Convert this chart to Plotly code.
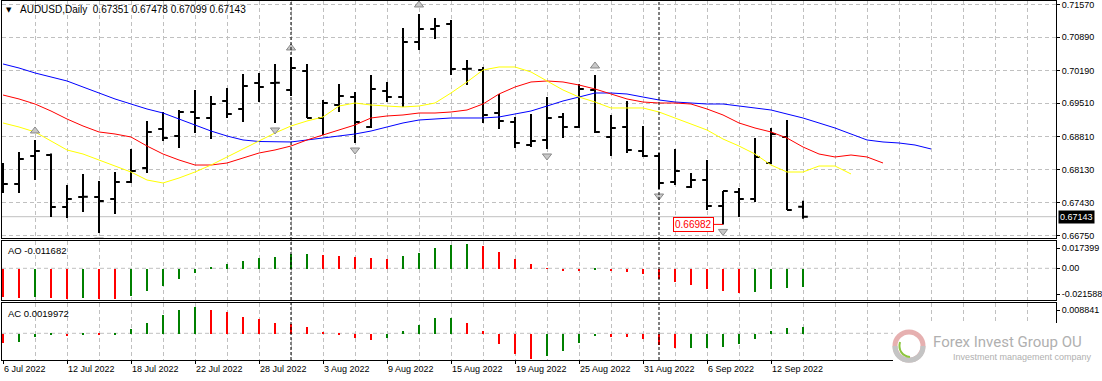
import plotly.graph_objects as go

# ---------------- data ----------------
DATES = ["6 Jul 2022", "7 Jul 2022", "8 Jul 2022", "11 Jul 2022", "12 Jul 2022", "13 Jul 2022",
         "14 Jul 2022", "15 Jul 2022", "18 Jul 2022", "19 Jul 2022", "20 Jul 2022", "21 Jul 2022",
         "22 Jul 2022", "25 Jul 2022", "26 Jul 2022", "27 Jul 2022", "28 Jul 2022", "29 Jul 2022",
         "1 Aug 2022", "2 Aug 2022", "3 Aug 2022", "4 Aug 2022", "5 Aug 2022", "8 Aug 2022",
         "9 Aug 2022", "10 Aug 2022", "11 Aug 2022", "12 Aug 2022", "15 Aug 2022", "16 Aug 2022",
         "17 Aug 2022", "18 Aug 2022", "19 Aug 2022", "22 Aug 2022", "23 Aug 2022", "24 Aug 2022",
         "25 Aug 2022", "26 Aug 2022", "29 Aug 2022", "30 Aug 2022", "31 Aug 2022", "1 Sep 2022",
         "2 Sep 2022", "5 Sep 2022", "6 Sep 2022", "7 Sep 2022", "8 Sep 2022", "9 Sep 2022",
         "12 Sep 2022", "13 Sep 2022", "14 Sep 2022"]

OPEN = [0.68118, 0.67826, 0.68410, 0.68431, 0.67345, 0.67554, 0.67554, 0.67512, 0.67868, 0.68160,
        0.68974, 0.68828, 0.69329, 0.69204, 0.69559, 0.69392, 0.69935, 0.69935, 0.69789, 0.70185,
        0.69204, 0.69475, 0.69642, 0.69016, 0.69768, 0.69642, 0.70791, 0.71062, 0.71167, 0.70227,
        0.70206, 0.69308, 0.69120, 0.68640, 0.68745, 0.69225, 0.69016, 0.69789, 0.68807, 0.69016,
        0.68515, 0.68410, 0.67868, 0.67763, 0.67909, 0.67366, 0.67659, 0.67512, 0.68264, 0.68807,
        0.67351]
HIGH = [0.68264, 0.68494, 0.68745, 0.68460, 0.67805, 0.68035, 0.67888, 0.68076, 0.68557, 0.69141,
        0.69329, 0.69371, 0.69789, 0.69663, 0.69830, 0.70123, 0.70144, 0.70332, 0.70478, 0.70332,
        0.69580, 0.69914, 0.69747, 0.70102, 0.69956, 0.71083, 0.71376, 0.71292, 0.71250, 0.70415,
        0.70269, 0.69705, 0.69225, 0.69287, 0.69642, 0.69308, 0.69914, 0.70102, 0.69267, 0.69559,
        0.69037, 0.68473, 0.68557, 0.68055, 0.68327, 0.67680, 0.67742, 0.68786, 0.68995, 0.69162,
        0.67478]
LOW = [0.67638, 0.67638, 0.67909, 0.67137, 0.67116, 0.67241, 0.66802, 0.67199, 0.67847, 0.68055,
       0.68724, 0.68578, 0.68891, 0.68765, 0.69204, 0.69120, 0.69538, 0.69100, 0.69663, 0.69204,
       0.68849, 0.69329, 0.68682, 0.68995, 0.69538, 0.69434, 0.70624, 0.70854, 0.70102, 0.69893,
       0.69100, 0.68974, 0.68578, 0.68598, 0.68557, 0.68786, 0.68995, 0.68891, 0.68410, 0.68473,
       0.68390, 0.67721, 0.67805, 0.67742, 0.67283, 0.66982, 0.67137, 0.67450, 0.68243, 0.67283,
       0.67099]
CLOSE = [0.67826, 0.68348, 0.68515, 0.67345, 0.67512, 0.67560, 0.67471, 0.67868, 0.68097, 0.68912,
         0.68786, 0.69329, 0.69204, 0.69496, 0.69287, 0.69872, 0.69851, 0.69940, 0.70248, 0.69204,
         0.69517, 0.69663, 0.69120, 0.69810, 0.69642, 0.70791, 0.71062, 0.71125, 0.70227, 0.70230,
         0.69267, 0.69141, 0.68682, 0.68724, 0.69204, 0.69016, 0.69810, 0.68912, 0.68995, 0.68536,
         0.68410, 0.67847, 0.68097, 0.67909, 0.67366, 0.67680, 0.67512, 0.68390, 0.68870, 0.67283,
         0.67143]

# Alligator lines (jaw / teeth / lips), extending past the last bar
JAW = [0.70332, 0.70248, 0.70144, 0.70060, 0.69977, 0.69851, 0.69726, 0.69601, 0.69496, 0.69392,
       0.69308, 0.69183, 0.69058, 0.68932, 0.68828, 0.68745, 0.68713, 0.68703, 0.68703, 0.68745,
       0.68786, 0.68828, 0.68870, 0.68932, 0.69016, 0.69100, 0.69162, 0.69183, 0.69204, 0.69204,
       0.69204, 0.69225, 0.69287, 0.69350, 0.69454, 0.69559, 0.69642, 0.69726, 0.69726, 0.69705,
       0.69642, 0.69580, 0.69538, 0.69517, 0.69496, 0.69496, 0.69454, 0.69413, 0.69371, 0.69287,
       0.69204, 0.69100, 0.68995, 0.68870, 0.68745, 0.68703, 0.68682, 0.68640, 0.68557]
TEETH = [0.69684, 0.69601, 0.69496, 0.69350, 0.69183, 0.69037, 0.68912, 0.68870, 0.68807, 0.68619,
         0.68452, 0.68327, 0.68222, 0.68222, 0.68264, 0.68369, 0.68473, 0.68536, 0.68619, 0.68745,
         0.68849, 0.68953, 0.69058, 0.69204, 0.69246, 0.69267, 0.69308, 0.69308, 0.69329, 0.69371,
         0.69496, 0.69705, 0.69851, 0.69956, 0.69977, 0.69956, 0.69893, 0.69810, 0.69705, 0.69601,
         0.69538, 0.69517, 0.69517, 0.69496, 0.69392, 0.69267, 0.69100, 0.68995, 0.68912, 0.68786,
         0.68598, 0.68452, 0.68390, 0.68431, 0.68390, 0.68264]
LIPS = [0.69100, 0.69016, 0.68912, 0.68724, 0.68536, 0.68452, 0.68327, 0.68201, 0.68076, 0.67909,
        0.67847, 0.67951, 0.68076, 0.68222, 0.68390, 0.68557, 0.68724, 0.68891, 0.69037, 0.69141,
        0.69225, 0.69454, 0.69517, 0.69475, 0.69454, 0.69434, 0.69454, 0.69517, 0.69726, 0.69956,
        0.70206, 0.70269, 0.70269, 0.70165, 0.69977, 0.69789, 0.69642, 0.69538, 0.69413, 0.69413,
        0.69413, 0.69329, 0.69204, 0.69079, 0.68953, 0.68765, 0.68619, 0.68452, 0.68222, 0.68076,
        0.68076, 0.68201, 0.68201, 0.68035]

FRACTAL_UP = [2, 18, 26, 37]
FRACTAL_DOWN = [6, 17, 22, 34, 41, 45]
LOW_LABEL_BAR = 45

AO = [-0.01808, -0.01872, -0.01808, -0.01872, -0.01936, -0.01872, -0.01936, -0.01950, -0.01765, -0.01425,
      -0.01106, -0.00659, -0.00277, 0.00064, 0.00277, 0.00489, 0.00681, 0.00744, 0.00915, 0.00936,
      0.00851, 0.00787, 0.00744, 0.00659, 0.00596, 0.00787, 0.01000, 0.01319, 0.01489, 0.01553,
      0.01425, 0.01064, 0.00596, 0.00277, 0.00043, -0.00149, -0.00160, -0.00085, -0.00170, -0.00213,
      -0.00362, -0.00638, -0.00851, -0.01064, -0.01276, -0.01425, -0.01531, -0.01489, -0.01319, -0.01210,
      -0.011682]
AC = [-0.0028, -0.0025, -0.0010, -0.0004, -0.0007, -0.0001, -0.0005, -0.0004, 0.0013, 0.0033,
      0.0055, 0.0070, 0.0080, 0.0070, 0.0065, 0.0049, 0.0043, 0.0031, 0.0028, 0.0019,
      0.0004, -0.0005, -0.0013, -0.0020, -0.0013, 0.0007, 0.0025, 0.0046, 0.0047, 0.0031,
      0.0007, -0.0032, -0.0062, -0.0074, -0.0067, -0.0053, -0.0029, -0.0008, -0.0009, -0.0010,
      -0.0017, -0.0035, -0.0044, -0.0043, -0.0042, -0.0041, -0.0032, -0.0017, 0.0007, 0.0018,
      0.0019972]

PRICE_TICKS = [0.71570, 0.70890, 0.70190, 0.69510, 0.68810, 0.68130, 0.67430, 0.66750]
AO_TICK_TEXT = ["0.017399", "0.00", "-0.021588"]
AC_TICK_TEXT = ["0.008841"]
SYMBOL = "AUDUSD,Daily"
WATERMARK = "Forex Invest Group OU"
WATERMARK_SUB = "Investment management company"

# ---------------- layout geometry (pixels) ----------------
W, H = 1102, 381
ML, MR, MT, MB = 2, 46, 1, 21
PW, PH = W - ML - MR, H - MT - MB
FONT = "Liberation Sans, Arial, sans-serif"
GRID = "#c0c0c0"
GRID_DASH = "4px,3px"
GREEN, RED = "#008000", "#ff0000"


def pxx(p):
    return (p - ML) / PW


def pxy(p):
    return (H - MB - p) / PH


MAIN_DOM = [pxy(238), 1.0]
AO_DOM = [pxy(300), pxy(240.5)]
AC_DOM = [0.0, pxy(302.5)]

X_RANGE = [-0.0625, 65.8125]
Y_RANGE = [0.66698, 0.71647]
AO_RANGE = [-0.02022, 0.01774]
AC_RANGE = [-0.0080, 0.00923]

n = len(CLOSE)
idx = list(range(n))
price_per_px = (Y_RANGE[1] - Y_RANGE[0]) / (238 - 1)

fig = go.Figure()

fig.add_trace(go.Ohlc(
    x=idx, open=OPEN, high=HIGH, low=LOW, close=CLOSE,
    increasing=dict(line=dict(color="black", width=2)),
    decreasing=dict(line=dict(color="black", width=2)),
    tickwidth=0.3, hoverinfo="skip", xaxis="x", yaxis="y"))

for vals, col in [(JAW, "#0000ff"), (TEETH, "#ff0000"), (LIPS, "#ffff00")]:
    fig.add_trace(go.Scatter(x=list(range(len(vals))), y=vals, mode="lines",
                             line=dict(color=col, width=1), hoverinfo="skip",
                             xaxis="x", yaxis="y"))

# fractals
fig.add_trace(go.Scatter(
    x=FRACTAL_UP, y=[HIGH[i] + 9 * price_per_px for i in FRACTAL_UP], mode="markers",
    marker=dict(symbol="triangle-up", size=8, color="#c8c8c8", line=dict(color="#8a8a8a", width=1)),
    hoverinfo="skip", xaxis="x", yaxis="y"))
fig.add_trace(go.Scatter(
    x=FRACTAL_DOWN, y=[LOW[i] - 7 * price_per_px for i in FRACTAL_DOWN], mode="markers",
    marker=dict(symbol="triangle-down", size=8, color="#c8c8c8", line=dict(color="#8a8a8a", width=1)),
    hoverinfo="skip", xaxis="x", yaxis="y"))


def hist_colors(vals):
    return [RED] + [GREEN if v > p else RED for p, v in zip(vals, vals[1:])]


fig.add_trace(go.Bar(x=idx, y=AO, width=0.18, marker=dict(color=hist_colors(AO), line=dict(width=0)),
                     hoverinfo="skip", xaxis="x2", yaxis="y2"))
fig.add_trace(go.Bar(x=idx, y=AC, width=0.18, marker=dict(color=hist_colors(AC), line=dict(width=0)),
                     hoverinfo="skip", xaxis="x3", yaxis="y3"))

grid_vals = list(range(0, 66, 2))
label_vals = [i for i in idx if i % 4 == 0]
label_text = [DATES[i] for i in label_vals]

xbase = dict(range=X_RANGE, showgrid=True, gridcolor=GRID, griddash=GRID_DASH, gridwidth=1,
             tickmode="array", tickvals=grid_vals, showticklabels=False, ticks="",
             showline=True, mirror=True, linecolor="black", linewidth=1, zeroline=False,
             fixedrange=True)

ybase = dict(side="right", showline=True, mirror=True, linecolor="black", linewidth=1,
             zeroline=False, ticks="outside", ticklen=3, tickcolor="black",
             ticklabeloverflow="allow",
             tickfont=dict(family=FONT, size=9, color="black"), fixedrange=True)

fig.update_layout(
    width=W, height=H, margin=dict(l=ML, r=MR, t=MT, b=MB, pad=0),
    paper_bgcolor="white", plot_bgcolor="white", showlegend=False, bargap=0,
    font=dict(family=FONT, size=9, color="black"),
    xaxis=dict(xbase, domain=[0, 1], anchor="y", rangeslider=dict(visible=False)),
    xaxis2=dict(xbase, domain=[0, 1], anchor="y2"),
    xaxis3=dict(xbase, domain=[0, 1], anchor="y3", showticklabels=True,
                tickvals=label_vals, ticktext=label_text, ticks="outside", ticklen=3,
                tickcolor="black", ticklabelposition="outside right",
                tickfont=dict(family=FONT, size=9, color="black"),
                minor=dict(tickmode="array", tickvals=grid_vals, showgrid=True,
                           gridcolor=GRID, griddash=GRID_DASH, ticks="")),
    yaxis=dict(ybase, domain=MAIN_DOM, anchor="x", range=Y_RANGE, tickvals=PRICE_TICKS,
               ticktext=[f"{v:.5f}" for v in PRICE_TICKS], showgrid=True, gridcolor=GRID,
               griddash=GRID_DASH),
    yaxis2=dict(ybase, domain=AO_DOM, anchor="x2", range=AO_RANGE,
                tickvals=[0.01295, 0.0, -0.0164], ticktext=AO_TICK_TEXT, showgrid=False),
    yaxis3=dict(ybase, domain=AC_DOM, anchor="x3", range=AC_RANGE,
                tickvals=[0.00698], ticktext=AC_TICK_TEXT, showgrid=False),
)

shapes = []
# zero lines in indicator panels
for xr, yr in [("x2 domain", "y2"), ("x3 domain", "y3")]:
    shapes.append(dict(type="line", xref=xr, yref=yr, x0=0, x1=1, y0=0, y1=0,
                       line=dict(color=GRID, width=1, dash=GRID_DASH), layer="below"))
# current price line
shapes.append(dict(type="line", xref="x domain", yref="y", x0=0, x1=1, y0=CLOSE[-1], y1=CLOSE[-1],
                   line=dict(color="#c0c0c0", width=1), layer="below"))
# month separators
months = [d.split(" ")[1] for d in DATES]
for i in range(1, n):
    if months[i] != months[i - 1]:
        shapes.append(dict(type="line", xref="x", yref="paper", x0=i, x1=i, y0=0, y1=1,
                           line=dict(color="black", width=1, dash="3px,2px"), layer="above"))
# watermark background + logo
shapes.append(dict(type="rect", xref="paper", yref="paper", x0=pxx(893), x1=pxx(1102),
                   y0=pxy(381), y1=pxy(323), fillcolor="white", line=dict(width=0), layer="above"))
cx, cy = pxx(909), pxy(346)
shapes.append(dict(type="circle", xref="paper", yref="paper", xsizemode="pixel", ysizemode="pixel",
                   xanchor=cx, yanchor=cy, x0=-14, x1=14, y0=-14, y1=14,
                   line=dict(color="#e6b0b0", width=5), layer="above"))
shapes.append(dict(type="path", xref="paper", yref="paper", xsizemode="pixel", ysizemode="pixel",
                   xanchor=cx, yanchor=cy, path="M-14,0 C-14,-19 14,-19 14,0",
                   line=dict(color="#c4c4c4", width=5), layer="above"))
shapes.append(dict(type="path", xref="paper", yref="paper", xsizemode="pixel", ysizemode="pixel",
                   xanchor=cx, yanchor=cy, path="M-9,4 C-11,-4 -7,-10 1,-11",
                   line=dict(color="#8cc63f", width=2), layer="above"))
fig.update_layout(shapes=shapes)

ann = []
ann.append(dict(xref="paper", yref="paper", x=pxx(9), y=pxy(10), text="▼", showarrow=False,
                font=dict(family="DejaVu Sans", size=7, color="black"), xanchor="center", yanchor="middle"))
ann.append(dict(xref="paper", yref="paper", x=pxx(18), y=pxy(10),
                text=f"{SYMBOL}  {OPEN[-1]:.5f} {HIGH[-1]:.5f} {LOW[-1]:.5f} {CLOSE[-1]:.5f}",
                showarrow=False, font=dict(family=FONT, size=10, color="black"),
                xanchor="left", yanchor="middle"))
ann.append(dict(xref="paper", yref="paper", x=pxx(6), y=pxy(250), text=f"AO {AO[-1]:.6f}",
                showarrow=False, font=dict(family=FONT, size=9.5, color="black"),
                xanchor="left", yanchor="middle"))
ann.append(dict(xref="paper", yref="paper", x=pxx(6), y=pxy(313), text=f"AC {AC[-1]:.7f}",
                showarrow=False, font=dict(family=FONT, size=9.5, color="black"),
                xanchor="left", yanchor="middle"))
# current price label on right axis
ann.append(dict(xref="paper", yref="y", x=1, y=CLOSE[-1], text=f"{CLOSE[-1]:.5f}", showarrow=False,
                xanchor="left", yanchor="middle", xshift=2, bgcolor="black", borderpad=1,
                font=dict(family=FONT, size=9, color="white")))
# lowest-low label
ann.append(dict(xref="x", yref="y", x=LOW_LABEL_BAR, y=LOW[LOW_LABEL_BAR],
                text=f"{LOW[LOW_LABEL_BAR]:.5f}", showarrow=True, arrowhead=0, arrowwidth=1,
                arrowcolor=RED, ax=-30, ay=0, bgcolor="white", bordercolor=RED, borderwidth=1,
                borderpad=1, font=dict(family=FONT, size=10, color=RED)))
# watermark text
ann.append(dict(xref="paper", yref="paper", x=pxx(931), y=pxy(342), text=WATERMARK, showarrow=False,
                xanchor="left", yanchor="middle", font=dict(family="Roboto", size=15, color="#b0b0b0")))
ann.append(dict(xref="paper", yref="paper", x=pxx(951), y=pxy(357), text=WATERMARK_SUB, showarrow=False,
                xanchor="left", yanchor="middle", font=dict(family=FONT, size=9, color="#b0b0b0")))
fig.update_layout(annotations=ann)

fig.write_html("out.html", config={"displayModeBar": False},
               post_script="document.body.style.margin='0px';"
                           "document.documentElement.style.overflow='hidden';")
